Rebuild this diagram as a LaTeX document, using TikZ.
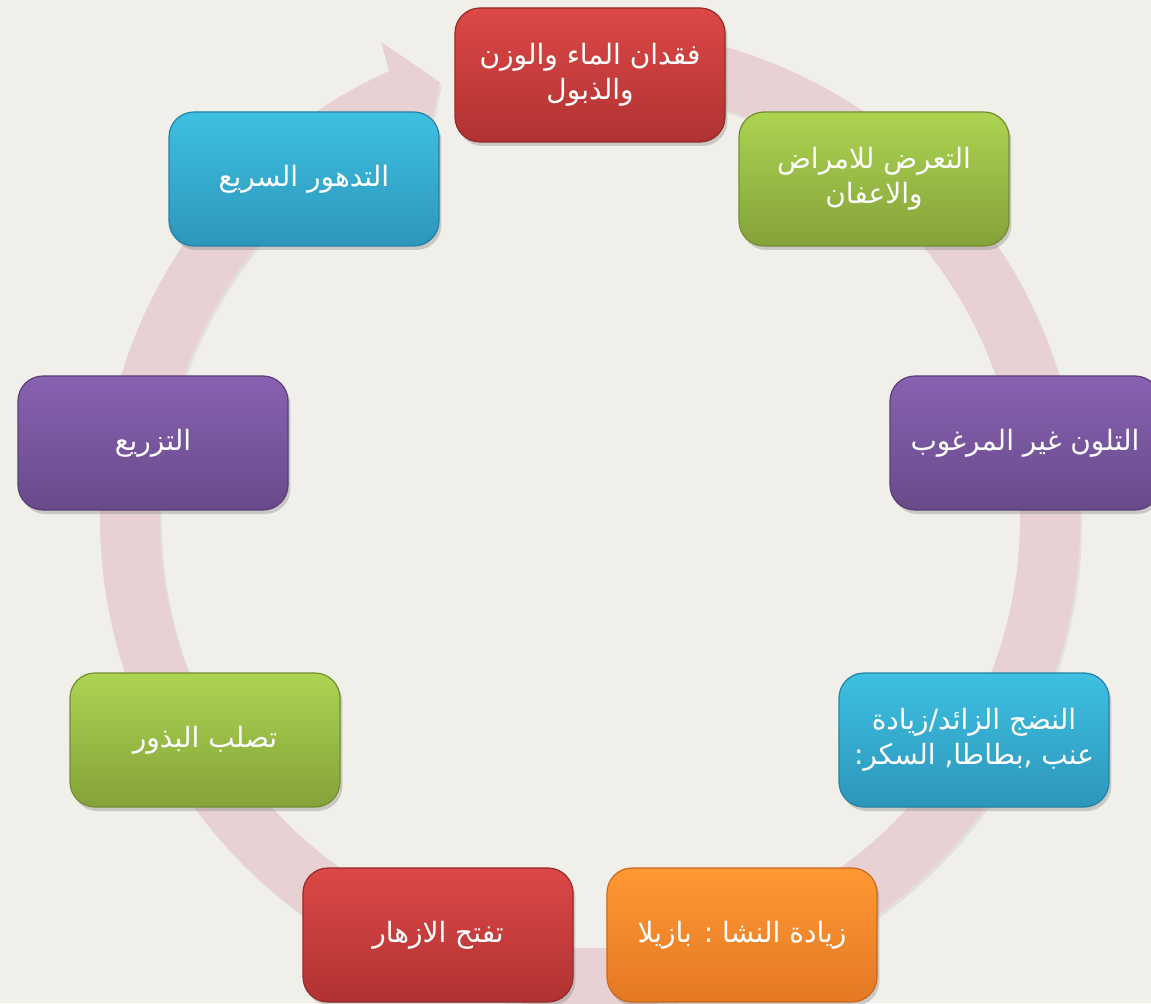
\documentclass[tikz,border=0pt]{standalone}
\usepackage{fontspec}
\newfontfamily\arabicfont[Script=Arabic]{DejaVu Sans}
\TeXXeTstate=1
\usetikzlibrary{calc,shadows}
\definecolor{bg}{RGB}{241,239,233}
\definecolor{ringc}{RGB}{232,209,210}
\definecolor{redT}{RGB}{220,72,70}
\definecolor{redB}{RGB}{176,50,50}
\definecolor{redD}{RGB}{150,42,42}
\definecolor{grnT}{RGB}{172,212,82}
\definecolor{grnB}{RGB}{132,162,58}
\definecolor{grnD}{RGB}{115,142,50}
\definecolor{purT}{RGB}{136,98,178}
\definecolor{purB}{RGB}{104,74,138}
\definecolor{purD}{RGB}{90,62,120}
\definecolor{cyaT}{RGB}{62,192,226}
\definecolor{cyaB}{RGB}{44,150,186}
\definecolor{cyaD}{RGB}{36,130,162}
\definecolor{orgT}{RGB}{255,152,52}
\definecolor{orgB}{RGB}{228,120,36}
\definecolor{orgD}{RGB}{200,105,30}
\begin{document}
\begin{tikzpicture}[x=0.5pt,y=0.5pt,
  box/.style={rounded corners=12.5pt, minimum width=135pt, minimum height=67pt,
    inner sep=0pt, text=white, align=center,
    font=\arabicfont\fontsize{14}{17.5}\selectfont, line width=0.6pt,
    drop shadow={opacity=0.35,shadow xshift=1.2pt,shadow yshift=-2pt}},
  redbox/.style={box, top color=redT, bottom color=redB, draw=redD},
  grnbox/.style={box, top color=grnT, bottom color=grnB, draw=grnD},
  purbox/.style={box, top color=purT, bottom color=purB, draw=purD},
  cyabox/.style={box, top color=cyaT, bottom color=cyaB, draw=cyaD},
  orgbox/.style={box, top color=orgT, bottom color=orgB, draw=orgD}]
\fill[bg] (0,0) rectangle (1151,1003);
\useasboundingbox (0,0) rectangle (1151,1003);
\clip (0,0) rectangle (1151,1003);
\coordinate (C) at (590,485);
% circular arrow ring
\fill[ringc, drop shadow={opacity=0.12,shadow xshift=1pt,shadow yshift=-1.5pt}]
  ($(C)+(100:245pt)$) arc[start angle=100, end angle=-245.8, radius=245pt]
  -- ($(C)+(-246.3:260pt)$) -- ($(C)+(-251:230.5pt)$)
  -- ($(C)+(-245.7:200pt)$) -- ($(C)+(-245.8:215pt)$)
  arc[start angle=-245.8, end angle=100, radius=215pt] -- cycle;
% boxes
\node[redbox] (n1) at (590,928) {\beginR فقدان الماء والوزن\endR\\\beginR والذبول\endR};
\node[grnbox] (n2) at (874,824) {\beginR التعرض للامراض\endR\\\beginR والاعفان\endR};
\node[purbox] (n3) at (1025,560) {\beginR التلون غير المرغوب\endR};
\node[cyabox] (n4) at (974,263) {\beginR النضج الزائد/زيادة\endR\\\beginR عنب ,بطاطا, السكر:\endR};
\node[orgbox] (n5) at (742,68) {\beginR زيادة النشا : بازيلا\endR};
\node[redbox] (n6) at (438,68) {\beginR تفتح الازهار\endR};
\node[grnbox] (n7) at (205,263) {\beginR تصلب البذور\endR};
\node[purbox] (n8) at (153,560) {\beginR التزريع\endR};
\node[cyabox] (n9) at (304,824) {\beginR التدهور السريع\endR};
\end{tikzpicture}
\end{document}
